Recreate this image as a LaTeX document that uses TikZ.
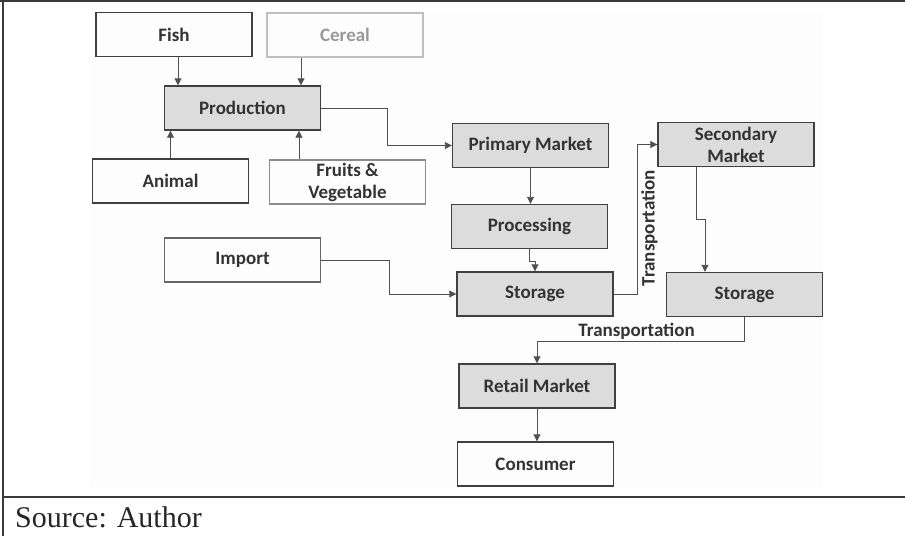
\documentclass[tikz,border=0pt]{standalone}
\usepackage{fontspec}
\usepackage{tikz}
\newfontfamily\boxfont{Carlito}
\newfontfamily\srcfont{Liberation Serif}
\definecolor{boxgrey}{HTML}{DCDCDC}
\definecolor{linegrey}{HTML}{505050}
\definecolor{framegrey}{HTML}{3A3A3A}
\tikzstyle{arrow} = [draw=linegrey, line width=0.9pt, -{Triangle[width=7pt,length=7pt]}]
\tikzstyle{flow} = [rectangle, draw=black!75, line width=1.4pt, minimum width=156pt, minimum height=44pt, align=center, inner sep=2pt, font=\boxfont\bfseries\fontsize{19}{22}\selectfont, text=black!80]
\tikzstyle{flow_grey} = [flow, fill=boxgrey]
\tikzstyle{flow_pale} = [flow, draw=black!25, text=black!40]
\tikzstyle{route} = [font=\boxfont\bfseries\fontsize{19}{22}\selectfont, text=black!80]
\usetikzlibrary{arrows.meta}

\begin{document}
\begin{tikzpicture}[x=1pt, y=1pt]
    \useasboundingbox (0,0) rectangle (905,-536);
    % table frame and source line
    \fill[white!99.3!black] (91,-12) rectangle (823,-487);
    \draw[line width=1.8pt, framegrey] (0,-1) -- (905,-1);
    \draw[line width=1.5pt, framegrey] (3,0) -- (3,-536);
    \draw[line width=1.8pt, framegrey] (3,-497) -- (905,-497);
    \node (source) [anchor=base west, inner sep=0pt, font=\srcfont\fontsize{30}{32}\selectfont, text=black!85] at (15,-527) {Source: Author};

    % inputs
    \node (fish) [flow] at (174,-34.5) {Fish};
    \node (cereal) [flow_pale] at (345,-35) {Cereal};
    \node (production) [flow_grey] at (242.5,-108) {Production};
    \node (animal) [flow] at (170.5,-181) {Animal};
    \node (fruits) [flow, draw=black!45] at (347.5,-182) {Fruits \&\\Vegetable};
    \node (import) [flow, draw=black!60] at (242.5,-260) {Import};

    % chain
    \node (primary) [flow_grey] at (530.5,-145.5) {Primary Market};
    \node (processing) [flow_grey] at (529.5,-226.5) {Processing};
    \node (storage_a) [flow_grey] at (535,-294) {Storage};
    \node (secondary) [flow_grey] at (736,-144.5) {Secondary\\Market};
    \node (storage_b) [flow_grey] at (744.5,-294.5) {Storage};
    \node (retail) [flow_grey] at (537,-386) {Retail Market};
    \node (consumer) [flow] at (535.5,-464) {Consumer};

    \draw [arrow] ([xshift=4pt]fish.south) -- ([xshift=4pt]fish.south |- production.north);
    \draw [arrow] ([xshift=-44pt]cereal.south) -- ([xshift=-44pt]cereal.south |- production.north);
    \draw [arrow] (animal.north) -- (animal.north |- production.south);
    \draw [arrow] ([xshift=-48.5pt]fruits.north) -- ([xshift=-48.5pt]fruits.north |- production.south);
    \draw [arrow] (production.east) -- ++(66,0) |- (primary.west);
    \draw [arrow] (primary.south) -- (primary.south |- processing.north);
    \draw [arrow] (processing.south) -- ++(0,-12) -| (storage_a.north);
    \draw [arrow] (import.east) -- ++(68,0) |- (storage_a.west);
    \draw [arrow] (storage_a.east) -- ++(24,0) |- node[route, pos=0.22, rotate=90, anchor=north, inner sep=3pt] {Transportation} (secondary.west);
    \draw [arrow] ([xshift=-40pt]secondary.south) -- ++(0,-52) -| ([xshift=-39.5pt]storage_b.north);
    \draw [arrow] (storage_b.south) -- ++(0,-24) -| node[route, pos=0.26, above, inner sep=1pt] {Transportation} (retail.north);
    \draw [arrow] (retail.south) -- (retail.south |- consumer.north);
\end{tikzpicture}
\end{document}
